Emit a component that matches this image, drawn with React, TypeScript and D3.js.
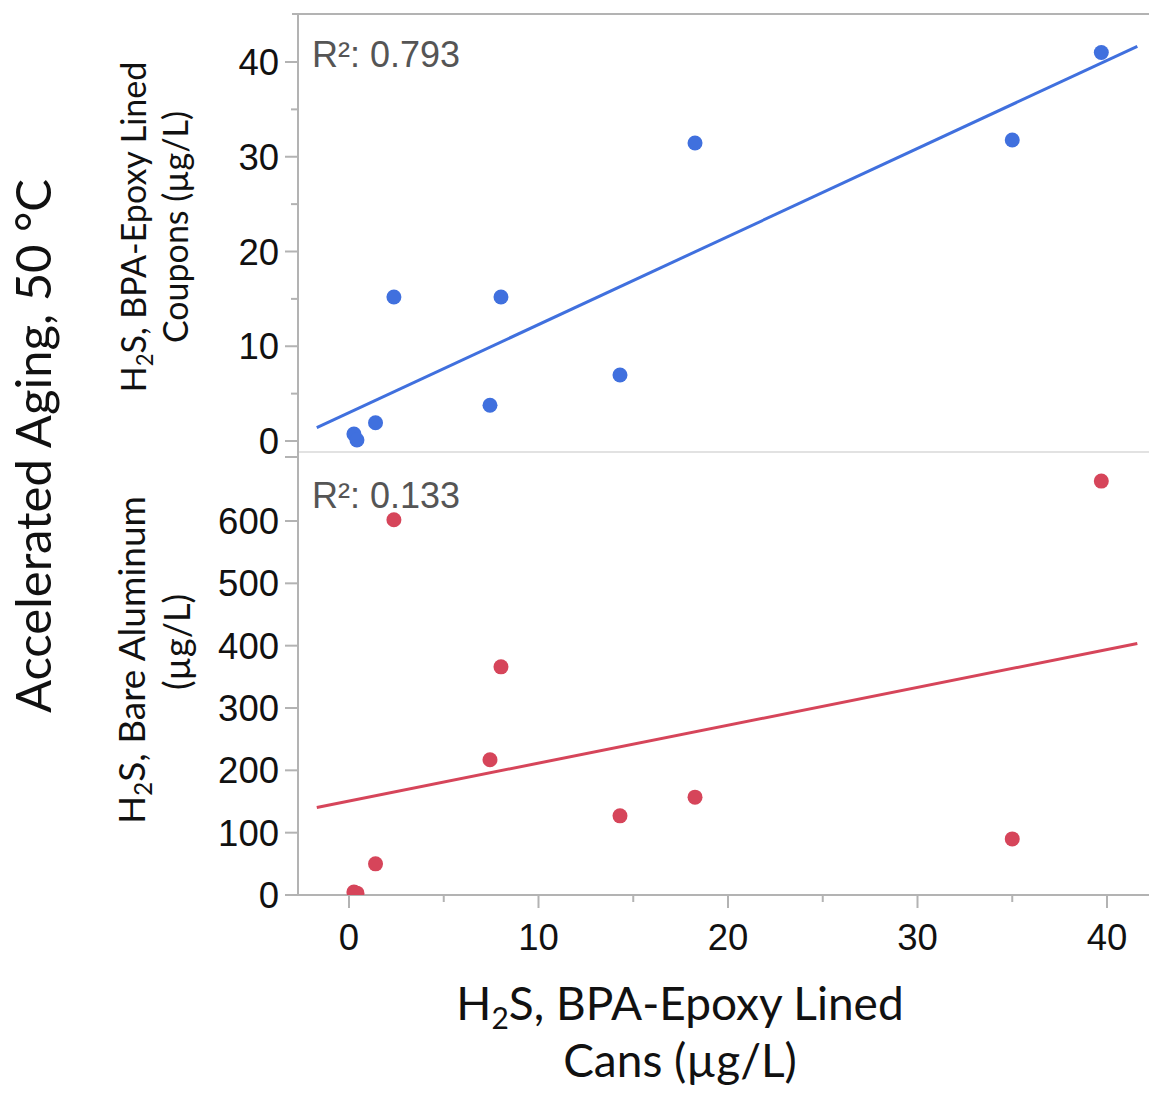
import React from "react";
import * as d3 from "d3";

// ---- data ----
const cansH2S = [0.26, 0.42, 1.4, 2.37, 7.44, 8.02, 14.3, 18.26, 35.0, 39.7];
const couponsH2S = [0.74, 0.1, 1.93, 15.2, 3.77, 15.2, 6.97, 31.45, 31.77, 41.0];
const bareAlH2S = [4.8, 3, 50, 602, 217, 366, 127, 157, 90, 664];
const r2Labels = ["R²: 0.793", "R²: 0.133"];
const xTicks = [0, 10, 20, 30, 40];
const xMinor = [5, 15, 25, 35];
const topTicks = [0, 10, 20, 30, 40];
const topMinor = [5, 15, 25, 35];
const botTicks = [0, 100, 200, 300, 400, 500, 600];
const fitRange = [-1.7, 41.6];

const BLUE = "#4070de";
const RED = "#d6455a";
const AXIS = "#b3b3b3";
const W = 1149;
const H = 1094;

function fit(xs: number[], ys: number[]) {
  const mx = d3.mean(xs)!;
  const my = d3.mean(ys)!;
  let sxy = 0, sxx = 0;
  xs.forEach((x, i) => {
    sxy += (x - mx) * (ys[i] - my);
    sxx += (x - mx) * (x - mx);
  });
  const b = sxy / sxx;
  const a = my - b * mx;
  return (x: number) => a + b * x;
}

export default function App() {
  const left = 298, right = W;
  const x = d3.scaleLinear().domain([0, 40]).range([349, 1107]);
  const yTop = d3.scaleLinear().domain([0, 40]).range([441, 62]);
  const yBot = d3.scaleLinear().domain([0, 600]).range([895, 521]);
  const topY0 = 14, divY = 452, botY1 = 895;

  const fTop = fit(cansH2S, couponsH2S);
  const fBot = fit(cansH2S, bareAlH2S);
  const line = d3.line<number>();
  const topLine = line(fitRange.map((v) => [x(v), yTop(fTop(v))] as any) as any);
  const botLine = line(fitRange.map((v) => [x(v), yBot(fBot(v))] as any) as any);

  const tickFont = { fontFamily: "'Liberation Sans', Arial, sans-serif", fontSize: 36.5, fill: "#111" };
  const titleFont = { fontFamily: "Lato, 'Open Sans', sans-serif", fill: "#111" };

  const sub = (s: number) => (
    <tspan fontSize={s * 0.65} dy={s * 0.2}>2</tspan>
  );

  return (
    <svg width={W} height={H} style={{ position: "absolute", left: 0, top: 0, background: "#fff" }}>
      <defs>
        <clipPath id="clipTop"><rect x={left} y={topY0} width={right - left} height={divY - topY0} /></clipPath>
        <clipPath id="clipBot"><rect x={left} y={divY} width={right - left} height={botY1 - divY} /></clipPath>
      </defs>

      {/* frame */}
      <line x1={292} x2={right} y1={topY0} y2={topY0} stroke={AXIS} strokeWidth={2} />
      <line x1={left} x2={right} y1={divY} y2={divY} stroke="#e2e2e2" strokeWidth={2} />
      <line x1={285} x2={left} y1={457} y2={457} stroke={AXIS} strokeWidth={2} />
      <line x1={left} x2={left} y1={topY0} y2={botY1} stroke={AXIS} strokeWidth={2} />
      <line x1={left} x2={right} y1={botY1} y2={botY1} stroke={AXIS} strokeWidth={2} />

      {/* top y ticks */}
      {topTicks.map((t) => (
        <g key={"tt" + t}>
          <line x1={285} x2={left} y1={yTop(t)} y2={yTop(t)} stroke={AXIS} strokeWidth={2} />
          <text x={279} y={yTop(t)} dy="0.36em" textAnchor="end" {...tickFont}>{t}</text>
        </g>
      ))}
      {topMinor.map((t) => (
        <line key={"tm" + t} x1={291} x2={left} y1={yTop(t)} y2={yTop(t)} stroke={AXIS} strokeWidth={2} />
      ))}
      {/* bottom y ticks */}
      {botTicks.map((t) => (
        <g key={"bt" + t}>
          <line x1={285} x2={left} y1={yBot(t)} y2={yBot(t)} stroke={AXIS} strokeWidth={2} />
          <text x={279} y={yBot(t)} dy="0.36em" textAnchor="end" {...tickFont}>{t}</text>
        </g>
      ))}
      {/* x ticks */}
      {xTicks.map((t) => (
        <g key={"xt" + t}>
          <line x1={x(t)} x2={x(t)} y1={botY1} y2={908} stroke={AXIS} strokeWidth={2} />
          <text x={x(t)} y={950} textAnchor="middle" {...tickFont}>{t}</text>
        </g>
      ))}
      {xMinor.map((t) => (
        <line key={"xm" + t} x1={x(t)} x2={x(t)} y1={botY1} y2={902} stroke={AXIS} strokeWidth={2} />
      ))}

      {/* R² labels */}
      <text x={312} y={67} fontFamily="'Liberation Sans', Arial, sans-serif" fontSize={36} fill="#555">{r2Labels[0]}</text>
      <text x={312} y={508} fontFamily="'Liberation Sans', Arial, sans-serif" fontSize={36} fill="#555">{r2Labels[1]}</text>

      {/* top panel */}
      <g clipPath="url(#clipTop)">
        <path d={topLine!} stroke={BLUE} strokeWidth={3} fill="none" />
        {cansH2S.map((v, i) => (
          <circle key={"b" + i} cx={x(v)} cy={yTop(couponsH2S[i])} r={7.5} fill={BLUE} />
        ))}
      </g>
      {/* bottom panel */}
      <g clipPath="url(#clipBot)">
        <path d={botLine!} stroke={RED} strokeWidth={3} fill="none" />
        {cansH2S.map((v, i) => (
          <circle key={"r" + i} cx={x(v)} cy={yBot(bareAlH2S[i])} r={7.5} fill={RED} />
        ))}
      </g>

      {/* titles */}
      <g {...titleFont}>
        <text transform="translate(51,446) rotate(-90)" textAnchor="middle" fontSize={49}>
          Accelerated Aging, 50 °C
        </text>
        <text transform="translate(146,227) rotate(-90)" textAnchor="middle" fontSize={34}>
          H{sub(34)}<tspan dy={-34 * 0.2}>S, BPA-Epoxy Lined</tspan>
        </text>
        <text transform="translate(188,227) rotate(-90)" textAnchor="middle" fontSize={34}>
          Coupons (µg/L)
        </text>
        <text transform="translate(145,660) rotate(-90)" textAnchor="middle" fontSize={37}>
          H{sub(37)}<tspan dy={-37 * 0.2}>S, Bare Aluminum</tspan>
        </text>
        <text transform="translate(190,642) rotate(-90)" textAnchor="middle" fontSize={36}>
          (µg/L)
        </text>
        <text x={680} y={1020} textAnchor="middle" fontSize={46}>
          H{sub(46)}<tspan dy={-46 * 0.2}>S, BPA-Epoxy Lined</tspan>
        </text>
        <text x={680} y={1077} textAnchor="middle" fontSize={46}>
          Cans (µg/L)
        </text>
      </g>
    </svg>
  );
}
